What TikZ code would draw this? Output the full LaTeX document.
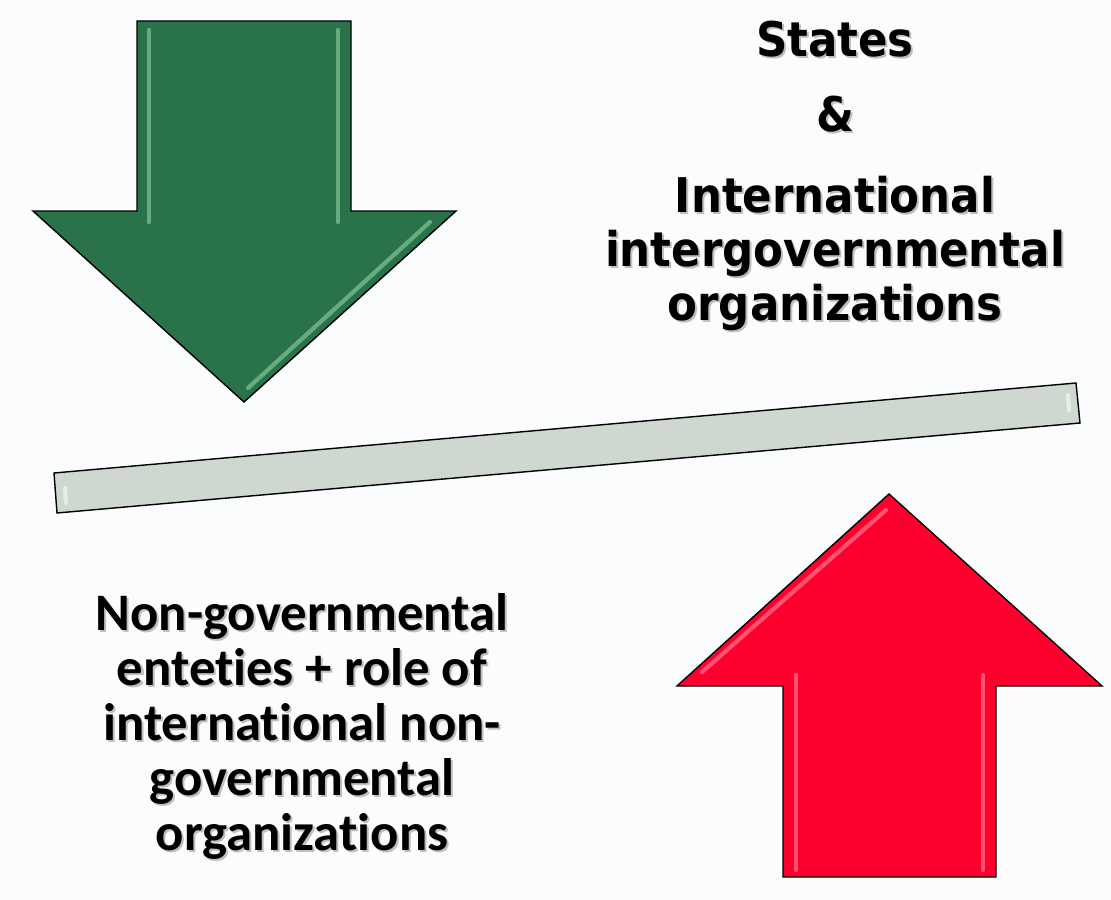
\documentclass[tikz,border=0pt]{standalone}
\usepackage{fontspec}
\newfontfamily\topfont{DejaVu Sans}[FakeStretch=0.91]
\newfontfamily\lowfont{Carlito}[Ligatures=CommonOff]

\definecolor{paper}{RGB}{251,252,254}
\definecolor{downgreen}{RGB}{42,115,74}
\definecolor{downgreenlight}{RGB}{150,220,175}
\definecolor{upred}{RGB}{255,0,46}
\definecolor{upredlight}{RGB}{255,150,170}
\definecolor{beamgray}{RGB}{206,215,208}

\begin{document}
\begin{tikzpicture}[x=0.025cm,y=-0.025cm,
  arrowshape/.style={draw=black,line width=1pt,line join=miter},
  bevel/.style={line width=3pt,opacity=0.55,line cap=round},
  toptext/.style={font=\topfont\bfseries\fontsize{34}{40}\selectfont,anchor=base,inner sep=0pt},
  lowtext/.style={font=\lowfont\bfseries\fontsize{37.5}{44}\selectfont,anchor=base,inner sep=0pt},
  shadowtext/.style={text=black!25}]
  \fill[paper] (0,0) rectangle (1111,900);

  % down arrow
  \filldraw[arrowshape,fill=downgreen] (137,21) -- (351,21) -- (351,211) -- (456,211)
    -- (244,402) -- (33,211) -- (137,211) -- cycle;
  \draw[bevel,downgreenlight] (149,30) -- (149,222);
  \draw[bevel,downgreenlight] (338,30) -- (338,222);
  \draw[bevel,downgreenlight] (430,222) -- (248,388);

  % up arrow
  \filldraw[arrowshape,fill=upred] (889,494) -- (1102,686) -- (996,686) -- (996,877)
    -- (783,877) -- (783,686) -- (677,686) -- cycle;
  \draw[bevel,upredlight] (796,675) -- (796,870);
  \draw[bevel,upredlight] (983,675) -- (983,870);
  \draw[bevel,upredlight] (702,672) -- (886,510);

  % beam
  \filldraw[arrowshape,fill=beamgray] (54,473) -- (1076,383) -- (1080,423) -- (57,513) -- cycle;
  \draw[bevel,white] (65,488) -- (66,503);
  \draw[bevel,white] (1068,395) -- (1069,410);

  % texts
  \foreach \t/\y [count=\i] in {States/57, \&/132, International/212,
      intergovernmental/266, organizations/320} {
    \node[toptext,shadowtext] at (837,\y+2) {\t};
    \node[toptext] (top\i) at (835,\y) {\t};
  }
  \foreach \t/\y [count=\i] in {Non-governmental/630, enteties + role of/685,
      international non-/740, governmental/795, organizations/850} {
    \node[lowtext,shadowtext] at (304,\y+2) {\t};
    \node[lowtext] (low\i) at (302,\y) {\t};
  }
\end{tikzpicture}
\end{document}
